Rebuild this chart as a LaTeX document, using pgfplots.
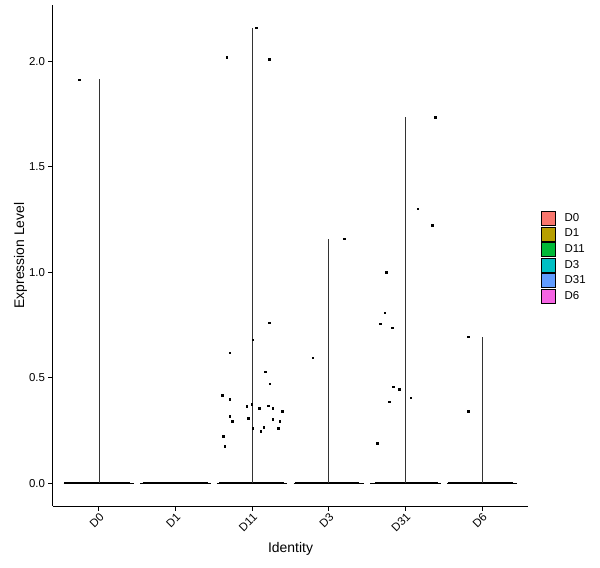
\documentclass[border=0pt]{standalone}
\usepackage{pgfplots}
\pgfplotsset{compat=1.18}
\usepackage{fontspec}
\setmainfont{Liberation Sans}
\newcommand{\tickfont}{\fontsize{11.5}{13}\selectfont}
\newcommand{\titlefont}{\fontsize{14}{16}\selectfont}
\definecolor{cD0}{HTML}{F8766D}
\definecolor{cD1}{HTML}{B79F00}
\definecolor{cD11}{HTML}{00BA38}
\definecolor{cD3}{HTML}{00BFC4}
\definecolor{cD31}{HTML}{619CFF}
\definecolor{cD6}{HTML}{F564E3}
\begin{document}
\begin{tikzpicture}
\useasboundingbox (-53bp,-62bp) rectangle (547bp,506bp);
\begin{axis}[
  scale only axis,
  width=475bp, height=501bp,
  at={(0,0)}, anchor=south west,
  xmin=-0.6, xmax=5.6,
  ymin=-0.108, ymax=2.268,
  axis x line*=bottom, axis y line*=left,
  axis line style={line width=1bp, black},
  xtick={0,1,2,3,4,5},
  xticklabels={D0,D1,D11,D3,D31,D6},
  ytick={0,0.5,1,1.5,2},
  yticklabel style={/pgf/number format/.cd, fixed, fixed zerofill, precision=1, /tikz/.cd, font=\tickfont},
  /pgf/number format/assume math mode=true,
  xticklabel style={rotate=45, anchor=north east, font=\tickfont, inner sep=1bp},
  tick align=outside,
  major tick length=4.5bp,
  tick style={line width=1bp, black},
  xlabel={Identity},
  ylabel={Expression Level},
  xlabel style={at={(axis description cs:0.5,-0.0938)}, anchor=base, font=\titlefont},
  ylabel style={at={(axis description cs:-0.061,0.5)}, anchor=base, font=\titlefont},
  clip=false,
  legend style={at={(axis description cs:1,0.497)}, anchor=west, xshift=13bp,
    draw=none, fill=none, inner sep=0pt, row sep=1bp, font=\tickfont,
    nodes={inner sep=1bp}},
  legend cell align=left,
]
% legend
\addlegendimage{legend image code/.code={\draw[fill=cD0, draw=black, line width=0.5bp] (0bp,-7bp) rectangle (14bp,7bp);}}
\addlegendentry{\hspace{8bp}D0}
\addlegendimage{legend image code/.code={\draw[fill=cD1, draw=black, line width=0.5bp] (0bp,-7bp) rectangle (14bp,7bp);}}
\addlegendentry{\hspace{8bp}D1}
\addlegendimage{legend image code/.code={\draw[fill=cD11, draw=black, line width=0.5bp] (0bp,-7bp) rectangle (14bp,7bp);}}
\addlegendentry{\hspace{8bp}D11}
\addlegendimage{legend image code/.code={\draw[fill=cD3, draw=black, line width=0.5bp] (0bp,-7bp) rectangle (14bp,7bp);}}
\addlegendentry{\hspace{8bp}D3}
\addlegendimage{legend image code/.code={\draw[fill=cD31, draw=black, line width=0.5bp] (0bp,-7bp) rectangle (14bp,7bp);}}
\addlegendentry{\hspace{8bp}D31}
\addlegendimage{legend image code/.code={\draw[fill=cD6, draw=black, line width=0.5bp] (0bp,-7bp) rectangle (14bp,7bp);}}
\addlegendentry{\hspace{8bp}D6}
% thin violin baselines
\pgfplotsset{every axis plot/.append style={forget plot}}
\addplot[black, line width=0.6bp] coordinates {(-0.46,0) (0.46,0)};
\addplot[black, line width=0.6bp] coordinates {(0.54,0) (1.46,0)};
\addplot[black, line width=0.6bp] coordinates {(1.54,0) (2.46,0)};
\addplot[black, line width=0.6bp] coordinates {(2.54,0) (3.46,0)};
\addplot[black, line width=0.6bp] coordinates {(3.54,0) (4.46,0)};
\addplot[black, line width=0.6bp] coordinates {(4.54,0) (5.46,0)};
% dense zero points
\addplot[black, line width=2.5bp] coordinates {(-0.45,0) (0.40,0)};
\addplot[black, line width=2.5bp] coordinates {(0.57,0) (1.42,0)};
\addplot[black, line width=2.5bp] coordinates {(1.57,0) (2.41,0)};
\addplot[black, line width=2.5bp] coordinates {(2.56,0) (3.40,0)};
\addplot[black, line width=2.5bp] coordinates {(3.60,0) (4.42,0)};
\addplot[black, line width=2.5bp] coordinates {(4.56,0) (5.40,0)};
% violin tails
\addplot[black!80, line width=0.7bp] coordinates {(0,0) (0,1.915)};
\addplot[black!80, line width=0.7bp] coordinates {(2,0) (2,2.16)};
\addplot[black!80, line width=0.7bp] coordinates {(3,0) (3,1.16)};
\addplot[black!80, line width=0.7bp] coordinates {(4,0) (4,1.736)};
\addplot[black!80, line width=0.7bp] coordinates {(5,0) (5,0.695)};
% jittered points
\addplot[only marks, mark=square*, mark size=0.7bp, black] coordinates {
(-0.26,1.915)
(1.67,2.02) (2.05,2.16) (2.22,2.01)
(2.22,0.761) (2.01,0.681) (1.71,0.619) (2.17,0.530) (2.23,0.473)
(1.61,0.417) (1.71,0.398) (1.99,0.374) (1.93,0.365) (2.21,0.369)
(2.09,0.355) (2.27,0.355) (2.39,0.341) (1.71,0.317) (1.95,0.308)
(1.74,0.294) (2.27,0.303) (2.36,0.294) (2.01,0.261) (2.15,0.266)
(2.34,0.261) (2.11,0.247) (1.62,0.223) (1.64,0.176)
(2.79,0.596) (3.20,1.16)
(4.39,1.736) (4.16,1.303) (4.35,1.223) (3.75,1.001) (3.73,0.808)
(3.67,0.756) (3.83,0.737) (3.84,0.459) (3.92,0.445) (4.07,0.407)
(3.79,0.388) (3.63,0.189)
(4.82,0.695) (4.82,0.341)
};
\end{axis}
\end{tikzpicture}
\end{document}
